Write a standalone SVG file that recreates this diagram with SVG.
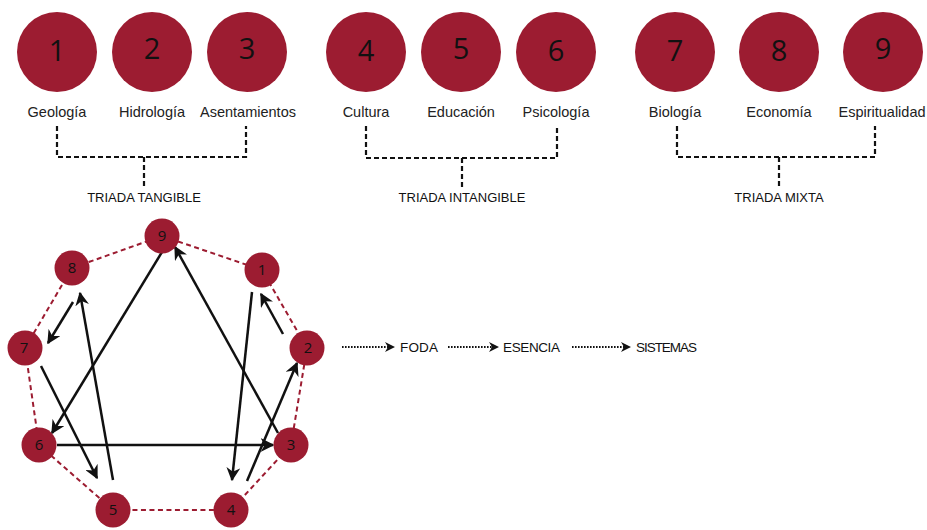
<svg xmlns="http://www.w3.org/2000/svg" width="927" height="530" viewBox="0 0 927 530">
  <style>
    .big { fill: #9c1c31; }
    .num { font-family: "Open Sans", "Noto Sans", sans-serif; font-size: 29px; fill: #111; text-anchor: middle; }
    .lab { font-family: "Liberation Sans", Arial, sans-serif; font-size: 14.5px; fill: #222; text-anchor: middle; }
    .tri { font-family: "Liberation Sans", Arial, sans-serif; font-size: 13px; fill: #111; text-anchor: middle; }
    .brk { fill: none; stroke: #111; stroke-width: 2.2; stroke-dasharray: 5 3; }
    .node circle { fill: #9c1c31; }
    .node text { font-family: "Open Sans", "Noto Sans", sans-serif; font-size: 15px; fill: #111; text-anchor: middle; }
    .ring { fill: none; stroke: #9c1c31; stroke-width: 2; stroke-dasharray: 5 3.5; }
    .arr { fill: none; stroke: #111; stroke-width: 2.5; marker-end: url(#head); }
    .dot { fill: none; stroke: #111; stroke-width: 2; stroke-dasharray: 1.6 1.4; marker-end: url(#smallhead); }
    .flow { font-family: "Liberation Sans", Arial, sans-serif; font-size: 13.5px; fill: #111; }
  </style>
  <defs>
    <marker id="head" viewBox="0 0 10 10" refX="9" refY="5" markerWidth="5.5" markerHeight="5.5" markerUnits="strokeWidth" orient="auto">
      <path d="M0,0 L10,5 L0,10 L3,5 Z" fill="#111"/>
    </marker>
    <marker id="smallhead" viewBox="0 0 10 10" refX="8" refY="5" markerWidth="5" markerHeight="5" markerUnits="strokeWidth" orient="auto">
      <path d="M0,0 L10,5 L0,10 L3,5 Z" fill="#111"/>
    </marker>
  </defs>

  <rect width="927" height="530" fill="#fff"/>

  <!-- Triada tangible -->
  <g id="t1">
    <circle class="big" cx="57" cy="52" r="40"/>
    <text class="num" x="57" y="61">1</text>
    <text class="lab" x="57" y="117">Geología</text>
  </g>
  <g id="t2">
    <circle class="big" cx="152" cy="52" r="40"/>
    <text class="num" x="152" y="59">2</text>
    <text class="lab" x="152" y="117">Hidrología</text>
  </g>
  <g id="t3">
    <circle class="big" cx="247" cy="52" r="40"/>
    <text class="num" x="247" y="59">3</text>
    <text class="lab" x="248" y="117">Asentamientos</text>
  </g>
  <g id="tangible">
    <path class="brk" d="M57,126 V157 H246 V126 M144,157 V188"/>
    <text class="tri" x="144" y="202">TRIADA TANGIBLE</text>
  </g>

  <!-- Triada intangible -->
  <g id="t4">
    <circle class="big" cx="366" cy="52" r="40"/>
    <text class="num" x="366" y="61">4</text>
    <text class="lab" x="366" y="117">Cultura</text>
  </g>
  <g id="t5">
    <circle class="big" cx="461" cy="52" r="40"/>
    <text class="num" x="461" y="59">5</text>
    <text class="lab" x="461" y="117">Educación</text>
  </g>
  <g id="t6">
    <circle class="big" cx="556" cy="52" r="40"/>
    <text class="num" x="556" y="61">6</text>
    <text class="lab" x="556" y="117">Psicología</text>
  </g>
  <g id="intangible">
    <path class="brk" d="M366,126 V158 H557 V126 M462,158 V188"/>
    <text class="tri" x="462" y="202">TRIADA INTANGIBLE</text>
  </g>

  <!-- Triada mixta -->
  <g id="t7">
    <circle class="big" cx="675" cy="52" r="40"/>
    <text class="num" x="675" y="61">7</text>
    <text class="lab" x="675" y="117">Biología</text>
  </g>
  <g id="t8">
    <circle class="big" cx="779" cy="52" r="40"/>
    <text class="num" x="779" y="61">8</text>
    <text class="lab" x="779" y="117">Economía</text>
  </g>
  <g id="t9">
    <circle class="big" cx="883" cy="52" r="40"/>
    <text class="num" x="883" y="59">9</text>
    <text class="lab" x="882" y="117">Espiritualidad</text>
  </g>
  <g id="mixta">
    <path class="brk" d="M677,126 V157 H875 V126 M779,157 V188"/>
    <text class="tri" x="779" y="202">TRIADA MIXTA</text>
  </g>

  <!-- Enneagram ring and arrows -->
  <g id="connectors">
    <path class="ring" d="M162,236 L262,270 L307,348 L291,445 L231,510 L113,510 L39,445 L25,348 L72,268 Z"/>
    <line class="arr" x1="162" y1="252" x2="52" y2="433"/>
    <line class="arr" x1="278" y1="433" x2="175" y2="247"/>
    <line class="arr" x1="57" y1="445" x2="273" y2="445"/>
    <line class="arr" x1="252" y1="292" x2="232" y2="480"/>
    <line class="arr" x1="247" y1="481" x2="297" y2="363"/>
    <line class="arr" x1="283" y1="334" x2="261" y2="294"/>
    <line class="arr" x1="73" y1="302" x2="48" y2="343"/>
    <line class="arr" x1="41" y1="366" x2="97" y2="478"/>
    <line class="arr" x1="113" y1="480" x2="80" y2="293"/>
    <line class="dot" x1="342" y1="347" x2="393" y2="347"/>
    <line class="dot" x1="448" y1="347" x2="497" y2="347"/>
    <line class="dot" x1="572" y1="347" x2="629" y2="347"/>
  </g>

  <g id="n9" class="node"><circle cx="162" cy="236" r="17.5"/><text x="162" y="241">9</text></g>
  <g id="n8" class="node"><circle cx="72" cy="268" r="17.5"/><text x="72" y="273">8</text></g>
  <g id="n1" class="node"><circle cx="262" cy="270" r="17.5"/><text x="262" y="275">1</text></g>
  <g id="n7" class="node"><circle cx="25" cy="348" r="17.5"/><text x="24" y="353">7</text></g>
  <g id="n2" class="node"><circle cx="307" cy="348" r="17.5"/><text x="308" y="353">2</text></g>
  <g id="n6" class="node"><circle cx="39" cy="445" r="17.5"/><text x="39" y="450">6</text></g>
  <g id="n3" class="node"><circle cx="291" cy="445" r="17.5"/><text x="291" y="450">3</text></g>
  <g id="n5" class="node"><circle cx="113" cy="510" r="17.5"/><text x="113" y="515">5</text></g>
  <g id="n4" class="node"><circle cx="231" cy="510" r="17.5"/><text x="231" y="515">4</text></g>

  <!-- Process flow -->
  <g id="foda"><text class="flow" x="400" y="352" textLength="38">FODA</text></g>
  <g id="esencia"><text class="flow" x="503" y="352" textLength="57">ESENCIA</text></g>
  <g id="sistemas"><text class="flow" x="636" y="352" textLength="61">SISTEMAS</text></g>
</svg>
